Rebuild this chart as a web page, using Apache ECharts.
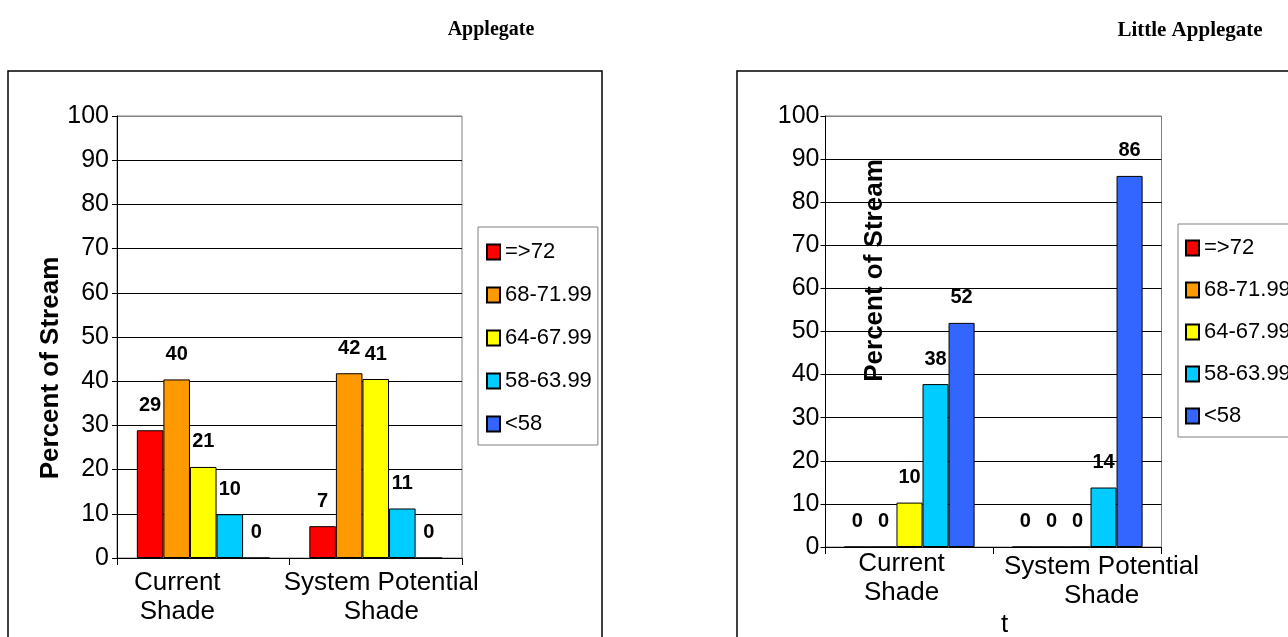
<!DOCTYPE html>
<html>
<head>
<meta charset="utf-8">
<script src="https://cdn.jsdelivr.net/npm/echarts@6/dist/echarts.min.js"></script>
<style>
html,body{margin:0;padding:0;background:#fff;}
#chart{width:1288px;height:637px;}
</style>
</head>
<body>
<div id="chart"></div>
<script>
// ---- data ----
const categories = ['Current\nShade', 'System Potential\nShade'];
const seriesNames = ['=>72', '68-71.99', '64-67.99', '58-63.99', '<58'];
const chartTitles = ['Applegate', 'Little Applegate'];
const yAxisName = 'Percent of Stream';

// Applegate (left chart), one array per temperature class: [Current, System Potential]
const apgGe72   = [28.9, 7.2];
const apg68to72 = [40.4, 41.8];
const apg64to68 = [20.6, 40.5];
const apg58to64 = [9.9, 11.2];
const apgLt58   = [0, 0];

// Little Applegate (right chart)
const lapGe72   = [0, 0];
const lap68to72 = [0, 0];
const lap64to68 = [10.3, 0];
const lap58to64 = [37.8, 13.8];
const lapLt58   = [52.0, 86.1];

const palette = ['#FF0000', '#FF9900', '#FFFF00', '#00CCFF', '#3366FF'];

// ---- chart ----
const FONT = 'Liberation Sans, Arial, sans-serif';
const chart = echarts.init(document.getElementById('chart'), null, {renderer: 'canvas'});

const apgData = [apgGe72, apg68to72, apg64to68, apg58to64, apgLt58];
const lapData = [lapGe72, lap68to72, lap64to68, lap58to64, lapLt58];

function makeSeries(dataSets, axisIndex, catGap) {
  return dataSets.map((d, i) => ({
    type: 'bar',
    name: seriesNames[i],
    xAxisIndex: axisIndex,
    yAxisIndex: axisIndex,
    data: d,
    barGap: '0%',
    barCategoryGap: catGap,
    itemStyle: {color: palette[i], borderColor: '#000', borderWidth: 1},
    label: {
      show: true,
      position: 'top',
      distance: 15,
      formatter: p => String(Math.round(p.value)),
      fontFamily: FONT,
      fontWeight: 'bold',
      fontSize: 20,
      color: '#000'
    },
    emphasis: {disabled: true}
  }));
}

const splitColors = [];
for (let i = 0; i < 10; i++) splitColors.push('#000');
splitColors.push('#808080');

function yAxisCfg(idx, margin, name, nameGap, namePadding) {
  return {
    type: 'value', gridIndex: idx, min: 0, max: 100, interval: 10,
    name: name, nameLocation: 'middle', nameGap: nameGap, nameRotate: 90,
    nameTextStyle: {fontFamily: FONT, fontWeight: 'bold', fontSize: 26, color: '#000', padding: namePadding},
    axisLine: {show: true, lineStyle: {color: '#000', width: 1}},
    axisTick: {show: true, inside: false, length: 5, lineStyle: {color: '#000'}},
    axisLabel: {fontFamily: FONT, fontSize: 25, color: '#000', margin: margin},
    splitLine: {show: true, lineStyle: {color: splitColors, width: 1}}
  };
}

function xAxisCfg(idx, margin, paddings) {
  return {
    type: 'category', gridIndex: idx,
    data: categories.map((c, i) => ({value: c, textStyle: {padding: paddings[i]}})),
    axisLine: {show: true, lineStyle: {color: '#000', width: 1}},
    axisTick: {show: true, length: 7, alignWithLabel: false, lineStyle: {color: '#000'}},
    axisLabel: {interval: 0, fontFamily: FONT, fontSize: 26, lineHeight: 29, color: '#000', margin: margin},
    splitLine: {show: false}
  };
}

function legendCfg(left, top, gap, pad) {
  return {
    orient: 'vertical', left: left, top: top,
    padding: pad, itemGap: gap,
    itemWidth: 13, itemHeight: 15, icon: 'rect',
    borderColor: '#808080', borderWidth: 1,
    textStyle: {fontFamily: FONT, fontSize: 22, color: '#000'},
    data: seriesNames,
    selectedMode: false
  };
}

const option = {
  backgroundColor: '#fff',
  animation: false,
  textStyle: {fontFamily: FONT},
  title: [
    {text: chartTitles[0], left: 486, top: 15, textAlign: 'center',
     textStyle: {fontFamily: 'Liberation Serif, Times New Roman, serif', fontWeight: 'bold', fontSize: 20, color: '#000'}},
    {text: chartTitles[1], left: 1185, top: 15, textAlign: 'center',
     textStyle: {fontFamily: 'Liberation Serif, Times New Roman, serif', fontWeight: 'bold', fontSize: 21, color: '#000'}}
  ],
  graphic: [
    {type: 'rect', shape: {x: 8, y: 71, width: 594, height: 620}, style: {fill: 'none', stroke: '#000', lineWidth: 1.5}, silent: true, z: -1},
    {type: 'rect', shape: {x: 737, y: 71, width: 620, height: 620}, style: {fill: 'none', stroke: '#000', lineWidth: 1.5}, silent: true, z: -1},
    {type: 'text', x: 1001, y: 625, style: {text: 't', font: '26px ' + FONT, fill: '#000', verticalAlign: 'middle'}, silent: true}
  ],
  legend: [
    legendCfg(478, 227, 21, [14, 6, 10, 8]),
    legendCfg(1178, 224, 20, [13, 6, 10, 7])
  ],
  grid: [
    {left: 117, top: 116, width: 345, height: 442, show: true, borderColor: '#808080', borderWidth: 1, backgroundColor: 'transparent', containLabel: false},
    {left: 825.5, top: 116, width: 336, height: 431, show: true, borderColor: '#808080', borderWidth: 1, backgroundColor: 'transparent', containLabel: false}
  ],
  xAxis: [
    xAxisCfg(0, 10, [[0, 52, 0, 0], [0, 0, 0, 11]]),
    xAxisCfg(1, 2, [[0, 16, 0, 0], [3, 0, 0, 48]])
  ],
  yAxis: [
    yAxisCfg(0, 8, yAxisName, 53, [0, 62, 0, 0]),
    yAxisCfg(1, 6, yAxisName, -62, [0, 0, 0, 122])
  ],
  series: makeSeries(apgData, 0, '23%').concat(makeSeries(lapData, 1, '22.5%'))
};

chart.setOption(option);
</script>
</body>
</html>
